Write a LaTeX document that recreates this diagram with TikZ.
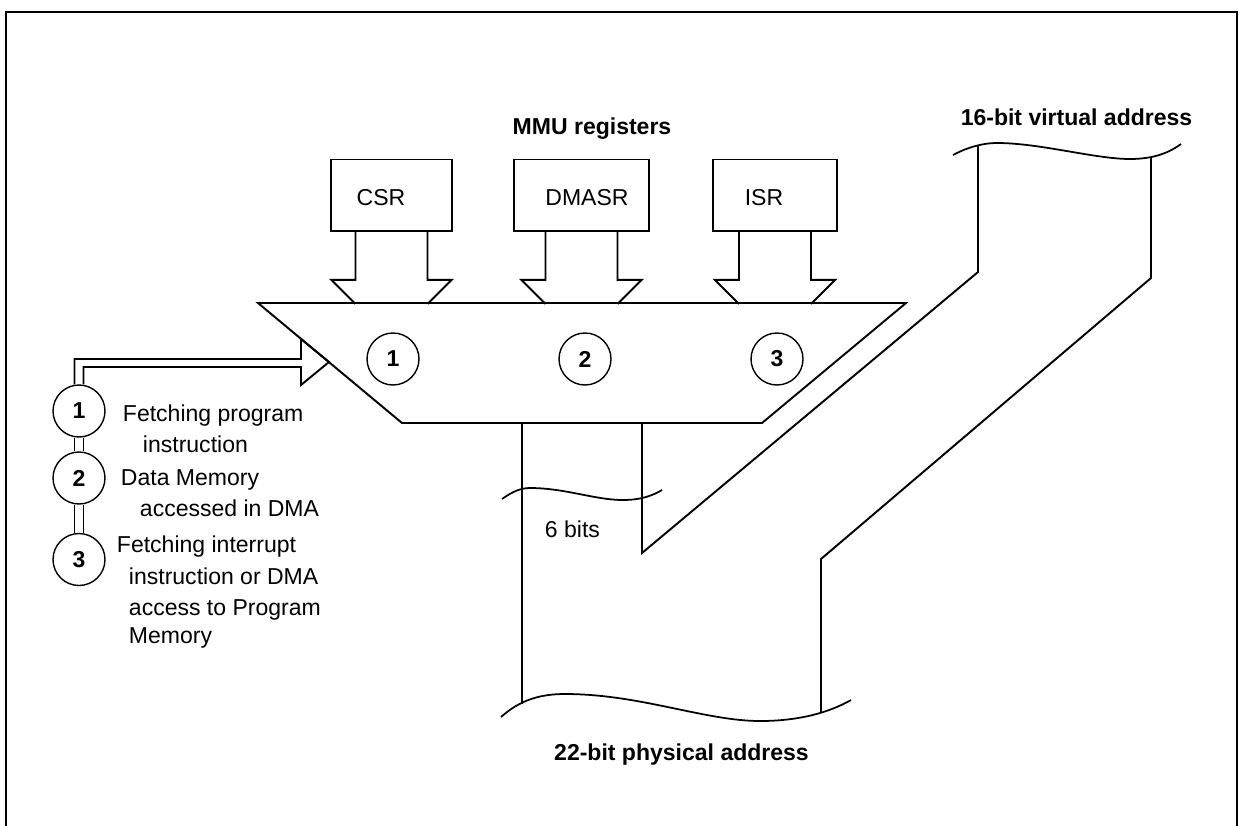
\documentclass[tikz,border=0pt]{standalone}
\usepackage{fontspec}
\setmainfont{Liberation Sans}
\usepackage{tikz}
\newcommand{\figfont}{\fontsize{13.1}{15}\selectfont}
\tikzstyle{reg}=[draw,rectangle,minimum height=1.43cm,inner sep=0pt]
\tikzstyle{num}=[draw,circle,line width=0.8pt,minimum size=1.04cm,inner sep=0pt,font=\figfont\bfseries]
\tikzstyle{txt}=[anchor=base west,inner sep=0pt,font=\figfont]
\tikzstyle{title}=[anchor=base,inner sep=0pt,font=\figfont\bfseries]

\begin{document}
\begin{tikzpicture}[x=0.02cm,y=-0.02cm,line width=1.1pt]
  \useasboundingbox (0,0) rectangle (1239,825);
  \draw (6,12) rectangle (1237,840);

  % selector
  \coordinate (tl) at (258,303); \coordinate (tr) at (906,303);
  \coordinate (br) at (762,423); \coordinate (bl) at (402,423);
  \draw (tl) -- (tr) -- (br) -- (bl) -- cycle;
  \foreach \i/\x in {1/393,2/585,3/777}
    \node[num] (m-\i) at (\x,359) {\i};

  % MMU registers
  \node[title] (mmu) at (592,134) {MMU registers};
  \node[reg,minimum width=2.42cm] (csr) at (391.5,195.25) {};
  \node[reg,minimum width=2.7cm] (dmasr) at (581.5,195.25) {};
  \node[reg,minimum width=2.48cm] (isr) at (775,195.25) {};
  \foreach \name/\x/\text in {csr/381/CSR, dmasr/587/DMASR, isr/764/ISR}
    \node[txt,anchor=base] (\name-t) at (\x,205) {\text};
  \foreach \reg in {csr,dmasr,isr}{
    \draw ([xshift=-0.72cm]\reg.south) -- ++(0,48) -- ++(-24,0) -- ++(24,24);
    \draw ([xshift=0.72cm]\reg.south) -- ++(0,48) -- ++(24,0) -- ++(-24,24);
  }

  % access types
  \foreach \i/\y in {1/411,2/478,3/559.5}
    \node[num] (l-\i) at (79,\y) {\i};
  \foreach \a/\b in {1/2,2/3}{
    \draw ([xshift=-0.09cm]l-\a.south) -- ([xshift=-0.09cm]l-\b.north);
    \draw ([xshift=0.09cm]l-\a.south) -- ([xshift=0.09cm]l-\b.north);
  }
  \draw ([xshift=-0.09cm]l-1.north) |- (301,359) -- (301,339) -- (329,362)
    -- (301,385) -- (301,367) -| ([xshift=0.09cm]l-1.north);
  \foreach \name/\x/\y/\text in {t-1a/122/421.7/Fetching program,
      t-1b/142/452.7/instruction, t-2a/120/485/Data Memory,
      t-2b/139/516/accessed in DMA, t-3a/116/552.7/Fetching interrupt,
      t-3b/128/584/instruction or DMA, t-3c/128/615/access to Program,
      t-3d/128/643/Memory}
    \node[txt] (\name) at (\x,\y) {\text};

  % address buses
  \draw (522,423) -- (522,704);
  \draw (642,423) -- (642,553) -- (978,272) -- (978,145);
  \draw (821,712) -- (821,559) -- (1151,278) -- (1151,157);
  \draw[line width=1pt] (953,155) .. controls (970,146) and (985,143) .. (997,143)
    .. controls (1040,143) and (1095,159) .. (1130,159)
    .. controls (1155,159) and (1170,152) .. (1181,144);
  \draw[line width=1pt] (502,499) .. controls (512,492) and (520,488) .. (530,488)
    .. controls (565,488) and (595,500) .. (623,500)
    .. controls (640,500) and (652,496) .. (662,490);
  \draw[line width=1pt] (501,717) .. controls (520,700) and (540,694) .. (565,694)
    .. controls (640,694) and (705,721) .. (760,721)
    .. controls (800,721) and (830,712) .. (851,700);
  \node[txt] (bits) at (544,537.3) {6 bits};
  \node[title] (virt) at (1076.5,125) {16-bit virtual address};
  \node[title] (phys) at (681.5,760) {22-bit physical address};
\end{tikzpicture}
\end{document}
